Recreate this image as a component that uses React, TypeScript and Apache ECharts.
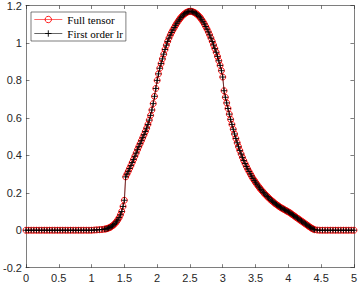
import React, { useEffect, useRef } from "react";
import * as echarts from "echarts";

const xTicks = [0, 0.5, 1, 1.5, 2, 2.5, 3, 3.5, 4, 4.5, 5];
const yTicks = [-0.2, 0, 0.2, 0.4, 0.6, 0.8, 1, 1.2];
const seriesNames = ["Full tensor", "First order lr"];

const fullTensor: [number, number][] = [
  [0, 0], [0.04, 0], [0.08, 0], [0.12, 0], [0.16, 0], [0.2, 0], [0.24, 0], [0.28, 0], [0.32, 0], [0.36, 0],
  [0.4, 0], [0.44, 0], [0.48, 0], [0.52, 0], [0.56, 0], [0.6, 0], [0.64, 0], [0.68, 0], [0.72, 0], [0.76, 0],
  [0.8, 0], [0.84, 0], [0.88, 0], [0.92, 0], [0.96, 0], [1.0, 0], [1.04, 0.001], [1.08, 0.002], [1.12, 0.003], [1.16, 0.004],
  [1.2, 0.006], [1.22, 0.007], [1.24, 0.009], [1.26, 0.012], [1.28, 0.015], [1.3, 0.019], [1.32, 0.024], [1.34, 0.03], [1.36, 0.037], [1.38, 0.045],
  [1.4, 0.055], [1.42, 0.067], [1.44, 0.082], [1.46, 0.1], [1.48, 0.127], [1.5, 0.16], [1.52, 0.285], [1.54, 0.3], [1.56, 0.315], [1.58, 0.33],
  [1.6, 0.345], [1.62, 0.362], [1.64, 0.378], [1.66, 0.395], [1.68, 0.412], [1.7, 0.43], [1.72, 0.446], [1.74, 0.462], [1.76, 0.478], [1.78, 0.494],
  [1.8, 0.51], [1.82, 0.527], [1.84, 0.545], [1.86, 0.565], [1.88, 0.588], [1.9, 0.613], [1.92, 0.642], [1.94, 0.676], [1.96, 0.715], [1.98, 0.757],
  [2.0, 0.8], [2.02, 0.835], [2.04, 0.865], [2.06, 0.89], [2.08, 0.915], [2.1, 0.94], [2.12, 0.965], [2.14, 0.988], [2.16, 1.008], [2.18, 1.026],
  [2.2, 1.042], [2.22, 1.056], [2.24, 1.069], [2.26, 1.082], [2.28, 1.094], [2.3, 1.105], [2.32, 1.116], [2.34, 1.126], [2.36, 1.135], [2.38, 1.143],
  [2.4, 1.15], [2.42, 1.156], [2.44, 1.161], [2.46, 1.165], [2.48, 1.168], [2.5, 1.169], [2.52, 1.169], [2.54, 1.167], [2.56, 1.164], [2.58, 1.16],
  [2.6, 1.155], [2.62, 1.149], [2.64, 1.142], [2.66, 1.134], [2.68, 1.124], [2.7, 1.113], [2.72, 1.101], [2.74, 1.088], [2.76, 1.074], [2.78, 1.059],
  [2.8, 1.043], [2.82, 1.026], [2.84, 1.008], [2.86, 0.989], [2.88, 0.97], [2.9, 0.95], [2.92, 0.928], [2.94, 0.905], [2.96, 0.88], [2.98, 0.852],
  [3.0, 0.818], [3.02, 0.745], [3.04, 0.71], [3.06, 0.68], [3.08, 0.65], [3.1, 0.62], [3.12, 0.592], [3.14, 0.565], [3.16, 0.539], [3.18, 0.514],
  [3.2, 0.49], [3.22, 0.467], [3.24, 0.446], [3.26, 0.426], [3.28, 0.407], [3.3, 0.389], [3.32, 0.372], [3.34, 0.356], [3.36, 0.341], [3.38, 0.327],
  [3.4, 0.314], [3.42, 0.301], [3.44, 0.289], [3.46, 0.277], [3.48, 0.266], [3.5, 0.256], [3.52, 0.246], [3.54, 0.236], [3.56, 0.227], [3.58, 0.218],
  [3.6, 0.21], [3.62, 0.202], [3.64, 0.194], [3.66, 0.187], [3.68, 0.18], [3.7, 0.173], [3.72, 0.166], [3.74, 0.16], [3.76, 0.154], [3.78, 0.148],
  [3.8, 0.142], [3.82, 0.137], [3.84, 0.132], [3.86, 0.127], [3.88, 0.122], [3.9, 0.118], [3.92, 0.114], [3.94, 0.11], [3.96, 0.106], [3.98, 0.102],
  [4.0, 0.098], [4.02, 0.094], [4.04, 0.089], [4.06, 0.084], [4.08, 0.079], [4.1, 0.074], [4.12, 0.069], [4.14, 0.064], [4.16, 0.059], [4.18, 0.054],
  [4.2, 0.049], [4.22, 0.044], [4.24, 0.039], [4.26, 0.034], [4.28, 0.029], [4.3, 0.024], [4.32, 0.019], [4.34, 0.014], [4.36, 0.01], [4.38, 0.006],
  [4.4, 0.003], [4.44, 0.001], [4.48, 0], [4.52, 0], [4.56, 0], [4.6, 0], [4.64, 0], [4.68, 0], [4.72, 0], [4.76, 0],
  [4.8, 0], [4.84, 0], [4.88, 0], [4.92, 0], [4.96, 0], [5.0, 0],
];

const firstOrderLr: [number, number][] = fullTensor;

const AXIS_COLOR = "#262626";

export default function App() {
  const ref = useRef<HTMLDivElement>(null);

  useEffect(() => {
    if (!ref.current) return;
    const chart = echarts.init(ref.current, undefined, { renderer: "svg" });
    const baseX = {
      type: "value" as const,
      min: xTicks[0],
      max: xTicks[xTicks.length - 1],
      interval: 0.5,
      splitLine: { show: false },
      axisLine: { show: true, onZero: false, lineStyle: { color: AXIS_COLOR, width: 0.6 } },
      axisTick: { show: true, inside: true, length: 3.5, lineStyle: { color: AXIS_COLOR, width: 0.6 } },
    };
    const baseY = {
      type: "value" as const,
      min: yTicks[0],
      max: yTicks[yTicks.length - 1],
      interval: 0.2,
      splitLine: { show: false },
      axisLine: { show: true, onZero: false, lineStyle: { color: AXIS_COLOR, width: 0.6 } },
      axisTick: { show: true, inside: true, length: 3.5, lineStyle: { color: AXIS_COLOR, width: 0.6 } },
    };
    const labelStyle = {
      color: AXIS_COLOR,
      fontFamily: "Liberation Sans, Arial, sans-serif",
      fontSize: 11,
    };
    chart.setOption({
      animation: false,
      backgroundColor: "#ffffff",
      grid: { left: 22.3, right: 4.7, top: 4.5, bottom: 16.3, containLabel: false },
      legend: {
        orient: "vertical",
        left: 31,
        top: 12,
        padding: [1, 3, 1, 3],
        itemGap: 1,
        itemWidth: 28,
        itemHeight: 8,
        backgroundColor: "#ffffff",
        borderColor: AXIS_COLOR,
        borderWidth: 0.6,
        textStyle: { color: "#000000", fontFamily: "Liberation Serif, Times New Roman, serif", fontSize: 11, lineHeight: 13 },
        data: [
          {
            name: seriesNames[0],
            itemStyle: { color: "rgba(255,0,0,0)", borderColor: "#ff0000", borderWidth: 0.9 },
            lineStyle: { color: "#ff0000", width: 0.6 },
          },
          {
            name: seriesNames[1],
            itemStyle: { color: "rgba(0,0,0,0)", borderColor: "#000000", borderWidth: 0.9 },
            lineStyle: { color: "#000000", width: 0.6 },
          },
        ],
      },
      xAxis: [
        { ...baseX, position: "bottom", axisLabel: { ...labelStyle, margin: 5 } },
        { ...baseX, position: "top", axisLabel: { show: false } },
      ],
      yAxis: [
        {
          ...baseY,
          position: "left",
          axisLabel: {
            ...labelStyle,
            margin: 4,
            formatter: (v: number) => String(Math.round(v * 10) / 10),
          },
        },
        { ...baseY, position: "right", axisLabel: { show: false } },
      ],
      series: [
        {
          name: seriesNames[0],
          type: "line",
          data: fullTensor,
          xAxisIndex: 0,
          yAxisIndex: 0,
          showAllSymbol: true,
          symbol: "circle",
          symbolSize: 6,
          itemStyle: { color: "rgba(255,0,0,0)", borderColor: "#ff0000", borderWidth: 0.9 },
          lineStyle: { color: "#ff0000", width: 0.6 },
          emphasis: { disabled: true },
          z: 2,
        },
        {
          name: seriesNames[1],
          type: "line",
          data: firstOrderLr,
          xAxisIndex: 0,
          yAxisIndex: 0,
          showAllSymbol: true,
          symbol: "path://M0,5L10,5M5,0L5,10",
          symbolSize: 6,
          itemStyle: { color: "rgba(0,0,0,0)", borderColor: "#000000", borderWidth: 0.9 },
          lineStyle: { color: "#000000", width: 0.6 },
          emphasis: { disabled: true },
          z: 3,
        },
      ],
    });
    return () => chart.dispose();
  }, []);

  return (
    <div
      ref={ref}
      style={{ position: "fixed", left: 0, top: 0, width: 360, height: 284, background: "#fff" }}
    />
  );
}
